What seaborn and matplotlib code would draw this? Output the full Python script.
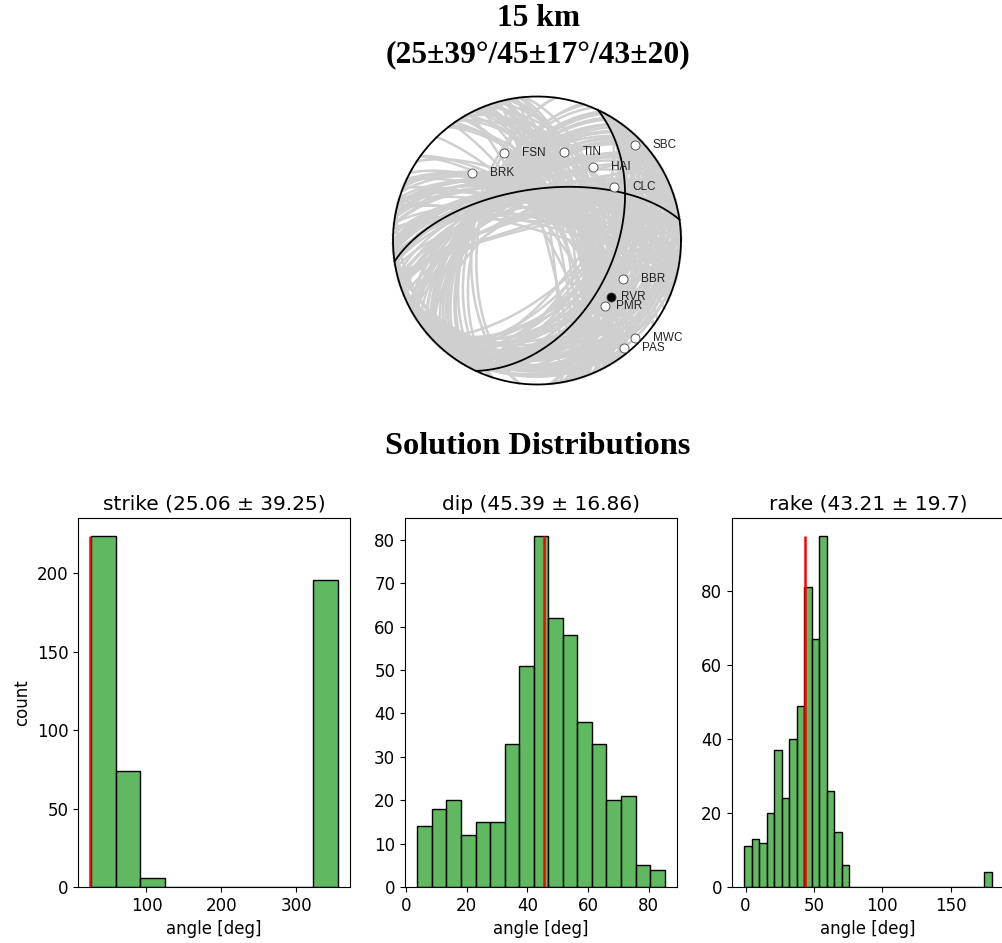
import numpy as np
import pandas as pd
import matplotlib
matplotlib.use("Agg")
import matplotlib.pyplot as plt
import seaborn as sns

# best solution (strike/dip/rake) and title text
best_sdr = (25.06, 45.39, 43.21)
best_std = (39.25, 16.86, 19.7)
depth_km = 15

# stations: name, azimuth [deg], takeoff [deg], polarity (1 = filled)
sta_names = ["SBC", "FSN", "TIN", "HAI", "BRK", "CLC", "BBR", "RVR", "PMR", "MWC", "PAS"]
sta_azim = [45.7, 339.6, 17.1, 37.3, 316.3, 55.4, 114.3, 127.4, 133.8, 134.9, 141.1]
sta_takeoff = [84.4, 54.8, 54.3, 54.3, 54.8, 54.7, 55.2, 54.6, 55.4, 85.6, 85.7]
sta_polarity = [0, 0, 0, 0, 0, 0, 0, 1, 0, 0, 0]

# accepted solutions (strike, dip, rake) drawn in grey
sample_sdr = [
    # strike 25-58
    (26, 44, 45), (28, 40, 50), (30, 48, 42), (32, 36, 55), (34, 52, 40),
    (36, 42, 48), (38, 30, 58), (40, 46, 44), (42, 38, 52), (44, 55, 38),
    (46, 34, 56), (48, 44, 46), (50, 28, 60), (52, 50, 42), (54, 40, 50),
    (56, 32, 58), (27, 50, 40), (29, 35, 54), (31, 56, 36), (33, 26, 62),
    (35, 45, 47), (37, 58, 34), (39, 40, 51), (41, 50, 43), (43, 27, 61),
    (45, 47, 45), (47, 37, 53), (49, 53, 40), (51, 33, 57), (53, 45, 48),
    (55, 25, 63), (57, 42, 52), (30, 62, 30), (36, 65, 28), (42, 60, 32),
    (48, 63, 30), (25, 46, 43), (34, 38, 50), (40, 54, 39), (46, 29, 59),
    (50, 15, 66), (54, 10, 70), (44, 18, 64), (58, 8, 72), (38, 20, 62),
    # strike 58-124
    (60, 22, 55), (62, 28, 50), (64, 16, 60), (66, 25, 52), (68, 12, 64),
    (70, 20, 56), (72, 30, 48), (74, 14, 62), (76, 24, 54), (78, 18, 58),
    (80, 10, 66), (83, 26, 50), (86, 6, 70), (89, 20, 55), (65, 34, 45),
    (105, 15, 60),
    # strike 322-355
    (323, 60, 45), (325, 66, 40), (327, 55, 50), (329, 72, 35), (331, 62, 42),
    (333, 48, 55), (335, 65, 45), (337, 58, 48), (339, 75, 30), (341, 52, 52),
    (343, 68, 38), (345, 60, 44), (347, 78, 25), (349, 56, 50), (351, 70, 35),
    (353, 63, 42), (355, 50, 55), (324, 80, 22), (326, 45, 58), (328, 70, 32),
    (330, 58, 46), (332, 84, 18), (334, 52, 50), (336, 62, 40), (338, 42, 58),
    (340, 70, 34), (342, 60, 44), (344, 46, 56), (346, 66, 38), (348, 74, 28),
    (350, 54, 48), (352, 82, 20), (354, 60, 40), (330, 40, 60), (336, 76, 26),
    (342, 64, 36), (348, 50, 50), (322, 62, 44), (345, 85, 15), (339, 66, 40),
]

# histogram counts
strike_range = (25.8, 355.5)
strike_counts = [224, 74, 6, 0, 0, 0, 0, 0, 0, 196]
dip_range = (3.8, 85.2)
dip_counts = [14, 18, 20, 12, 15, 15, 33, 51, 81, 62, 58, 38, 33, 20, 21, 5, 4]
rake_range = (-0.9, 180.0)
rake_counts = [11, 13, 12, 20, 37, 24, 40, 49, 81, 67, 95, 26, 15, 6] + [0] * 18 + [4]


def plane_xy(strike, dip, n=181):
    # lower hemisphere, equal-area
    s, d = np.radians(strike), np.radians(dip)
    t = np.linspace(0, np.pi, n)
    sv = np.array([np.cos(s), np.sin(s), 0.0])
    dv = np.array([np.cos(d) * np.cos(s + np.pi / 2), np.cos(d) * np.sin(s + np.pi / 2), np.sin(d)])
    v = np.outer(np.cos(t), sv) + np.outer(np.sin(t), dv)
    plunge = np.arcsin(np.clip(v[:, 2], -1, 1))
    trend = np.arctan2(v[:, 1], v[:, 0])
    r = np.sqrt(2) * np.sin((np.pi / 2 - plunge) / 2)
    return r * np.sin(trend), r * np.cos(trend)


def aux_plane(strike, dip, rake):
    s, d, l = np.radians([strike, dip, rake])
    u = np.array([
        np.cos(l) * np.cos(s) + np.cos(d) * np.sin(l) * np.sin(s),
        np.cos(l) * np.sin(s) - np.cos(d) * np.sin(l) * np.cos(s),
        -np.sin(l) * np.sin(d),
    ])
    if u[2] > 0:
        u = -u
    dipdir = np.degrees(np.arctan2(u[1], u[0]))
    return (dipdir - 90) % 360, np.degrees(np.arccos(abs(u[2])))


fig = plt.figure(figsize=(10.02, 9.43), dpi=100)

# titles
serif = ["Liberation Serif", "DejaVu Serif"]
fig.text(0.537, 1 - 19 / 943, f"{depth_km} km", ha="center", va="center",
         fontsize=22.7, fontweight="bold", family=serif)
title2 = "(" + "/".join([f"{round(best_sdr[0])}±{round(best_std[0])}°",
                         f"{round(best_sdr[1])}±{round(best_std[1])}°",
                         f"{round(best_sdr[2])}±{round(best_std[2])}"]) + ")"
fig.text(0.537, 1 - 55 / 943, title2, ha="center", va="center",
         fontsize=22.7, fontweight="bold", family=serif)
fig.text(0.537, 1 - 446 / 943, "Solution Distributions", ha="center", va="center",
         fontsize=23.3, fontweight="bold", family=serif)

# beachball
R = 144
cx, cy = 537, 943 - 240.5
half = 1.05 * R
axb = fig.add_axes([(cx - half) / 1002, (cy - half) / 943, 2 * half / 1002, 2 * half / 943])
axb.set_xlim(-1.05, 1.05)
axb.set_ylim(-1.05, 1.05)
axb.set_aspect("equal")
axb.axis("off")

for s, d, r in sample_sdr:
    for ps, pd_ in [(s, d), aux_plane(s, d, r)]:
        x, y = plane_xy(ps, pd_)
        axb.plot(x, y, color="#cfcfcf", lw=1.8, zorder=1)

for ps, pd_ in [best_sdr[:2], aux_plane(*best_sdr)]:
    x, y = plane_xy(ps, pd_)
    axb.plot(x, y, color="black", lw=1.3, zorder=3)

th = np.linspace(0, 2 * np.pi, 400)
axb.plot(np.cos(th), np.sin(th), color="black", lw=1.3, zorder=3)

label_dx = {"RVR": 7, "PMR": 7.5}
for name, az, to, pol in zip(sta_names, sta_azim, sta_takeoff, sta_polarity):
    rr = np.sqrt(2) * np.sin(np.radians(to) / 2)
    x, y = rr * np.sin(np.radians(az)), rr * np.cos(np.radians(az))
    axb.plot(x, y, "o", ms=6.5, mfc="black" if pol else "white", mec="#444444",
             mew=0.6, zorder=4)
    axb.annotate(name, (x, y), xytext=(label_dx.get(name, 13), 0), textcoords="offset points",
                 ha="left", va="center", fontsize=8.5, family="Liberation Sans",
                 color="#222222", zorder=5)

# histograms
green = (0.17, 0.63, 0.17)
hist_specs = [
    ("strike", strike_range, strike_counts, best_sdr[0], best_std[0]),
    ("dip", dip_range, dip_counts, best_sdr[1], best_std[1]),
    ("rake", rake_range, rake_counts, best_sdr[2], best_std[2]),
]
lefts = [78, 405, 732]
for i, (name, rng, counts, mean, std) in enumerate(hist_specs):
    ax = fig.add_axes([lefts[i] / 1002, 56 / 943, 272 / 1002, 369 / 943])
    edges = np.linspace(rng[0], rng[1], len(counts) + 1)
    df = pd.DataFrame({"angle": (edges[:-1] + edges[1:]) / 2, "n": counts})
    sns.histplot(data=df, x="angle", weights="n", bins=list(edges), color=green, alpha=0.75,
                 edgecolor="black", linewidth=1.0, ax=ax)
    ax.vlines(mean, 0, max(counts), color="red", lw=1.8, zorder=5)
    ax.set_title(f"{name} ({round(mean, 2)} ± {round(std, 2)})", fontsize=14.5)
    ax.set_xlabel("angle [deg]", fontsize=12)
    ax.set_ylabel("count" if i == 0 else "", fontsize=12)
    ax.tick_params(labelsize=12)

fig.savefig("out.png", dpi=100)
